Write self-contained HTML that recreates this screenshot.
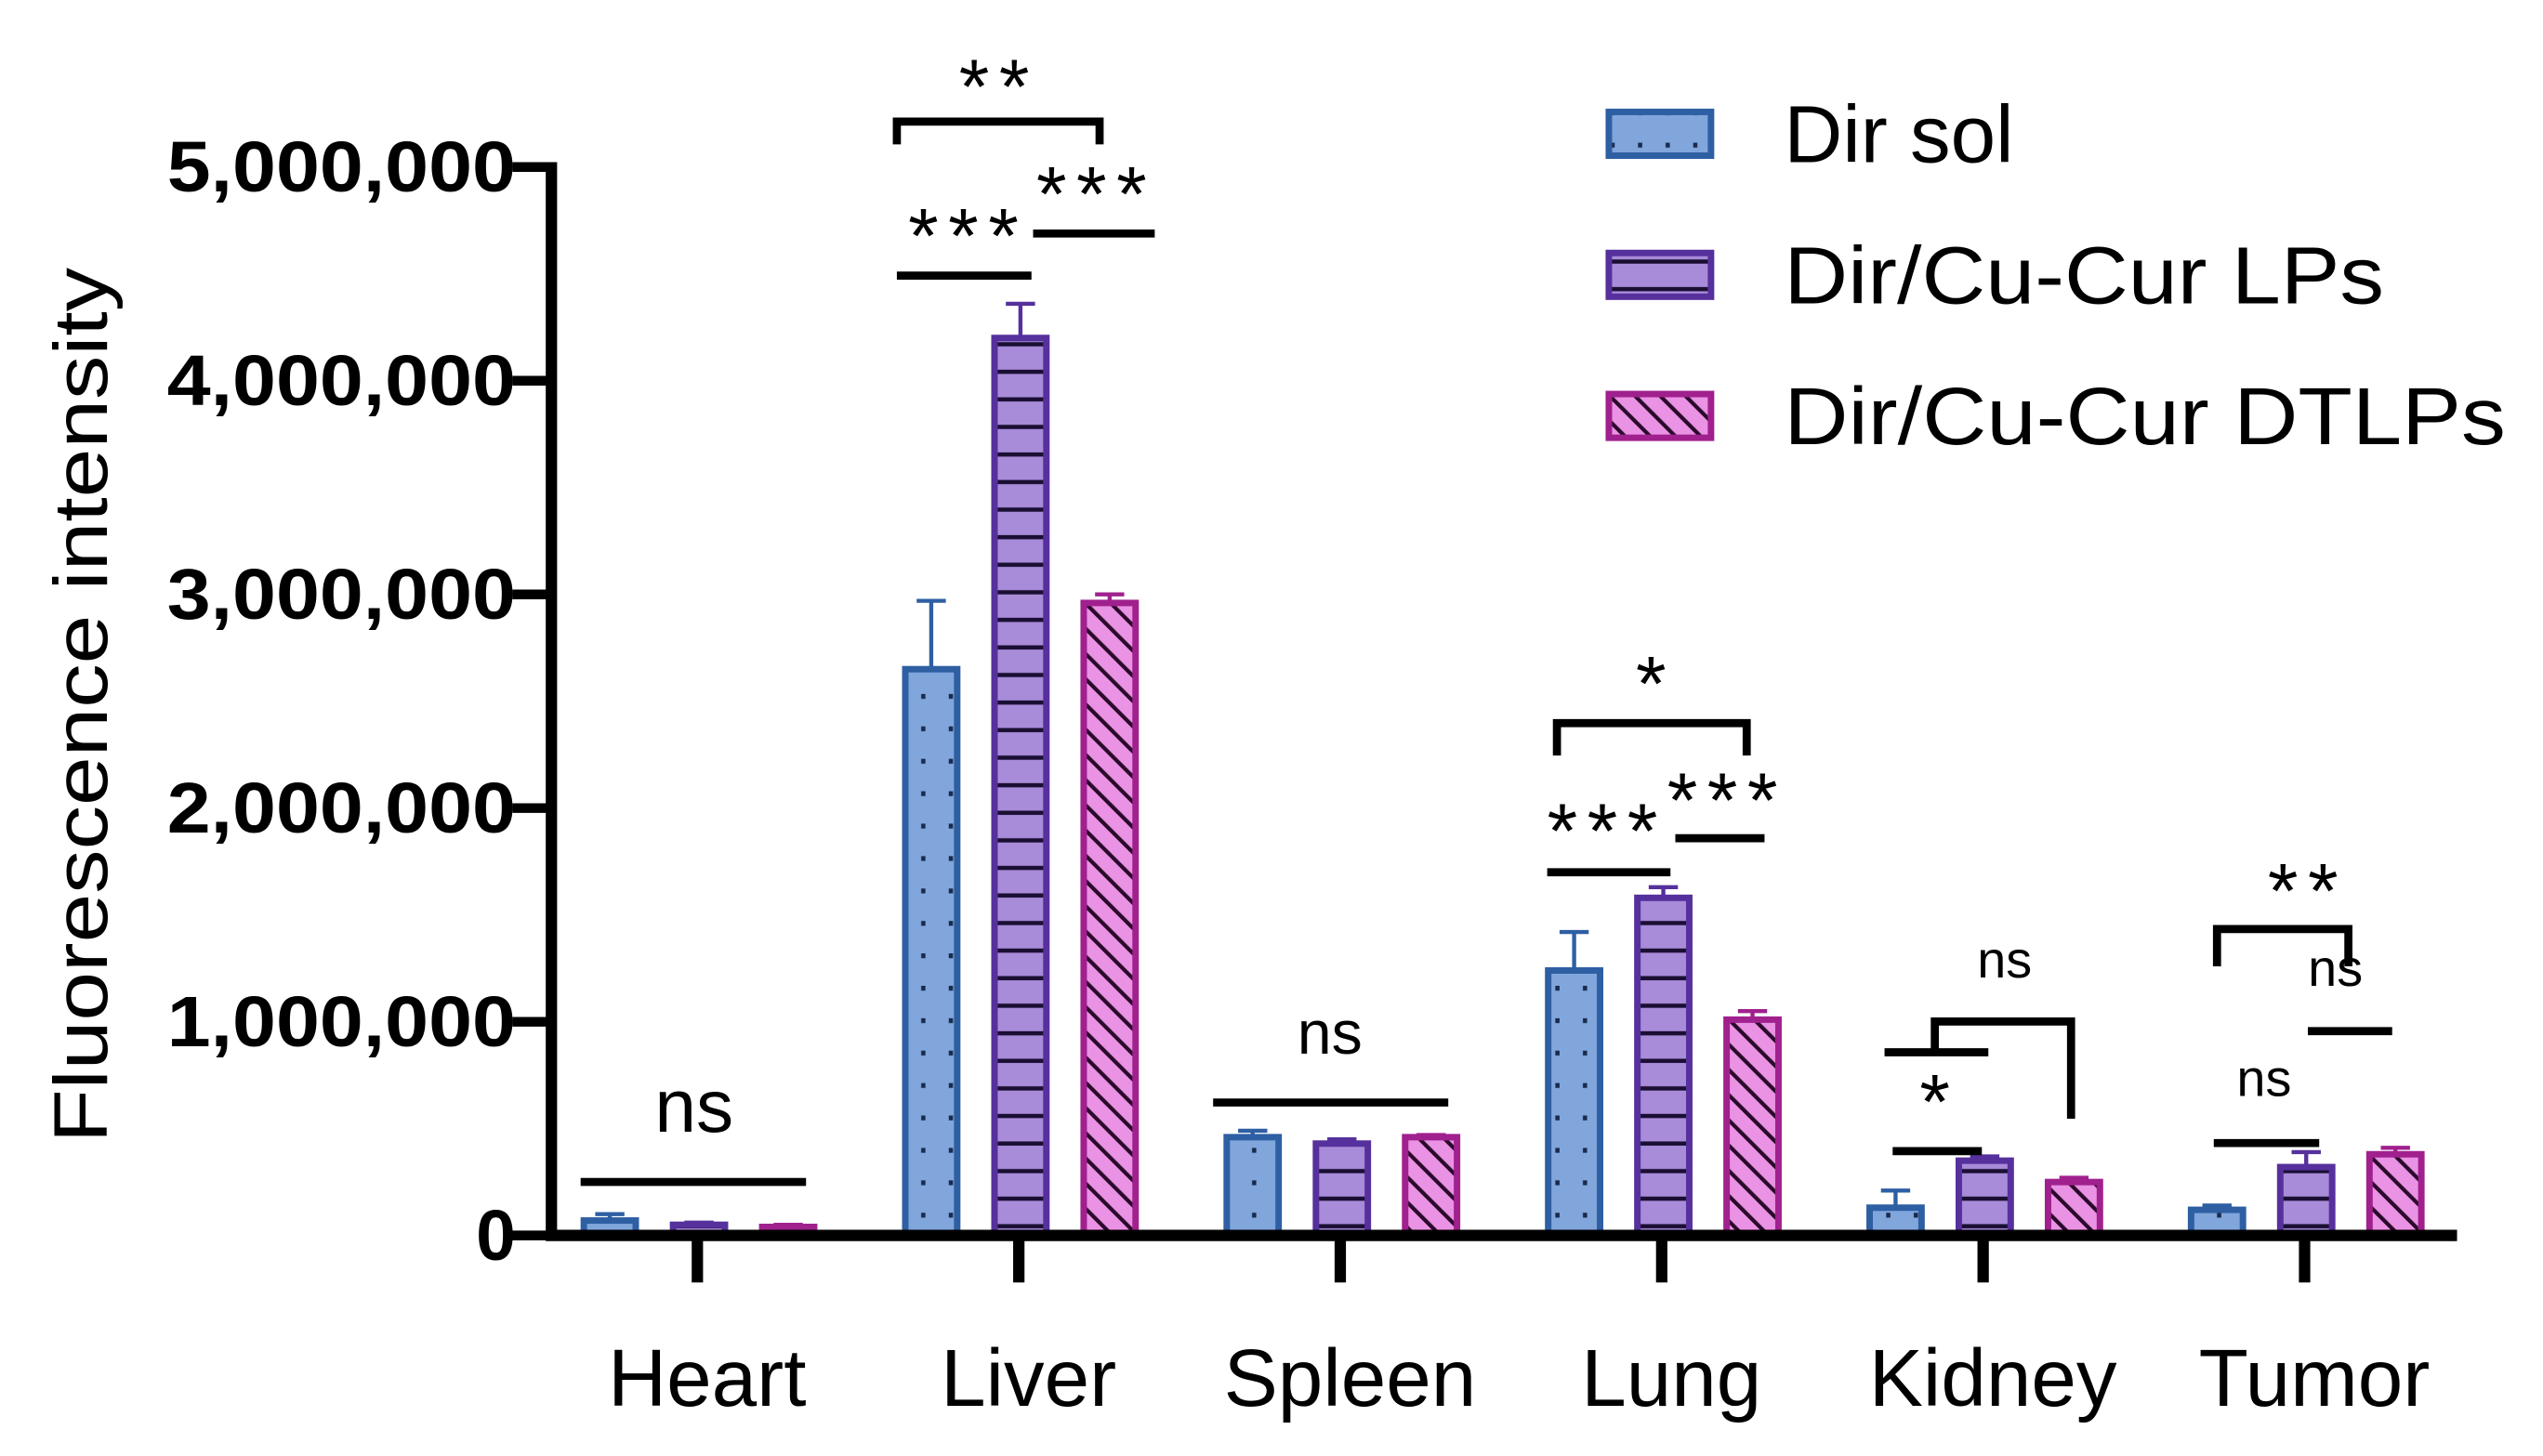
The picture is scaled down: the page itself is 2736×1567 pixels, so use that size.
<!DOCTYPE html>
<html><head><meta charset="utf-8"><style>
html,body{margin:0;padding:0;background:#fff;}
svg{display:block;}
text{font-family:"Liberation Sans",Arial,sans-serif;}
.star{font-size:48px;letter-spacing:6px;}
</style></head><body>
<svg id="chart" xmlns="http://www.w3.org/2000/svg" width="2736" height="1567" viewBox="0 0 1568 898">
<defs>
<pattern id="pDots" patternUnits="userSpaceOnUse" width="17" height="20"><rect width="17" height="20" fill="#80a6dc"/><rect x="7" y="8" width="2.6" height="3" fill="#1a2a4a"/></pattern>
<pattern id="pLines" patternUnits="userSpaceOnUse" width="20" height="17"><rect width="20" height="17" fill="#a88bd9"/><rect x="0" y="7" width="20" height="2.6" fill="#1a0f33"/></pattern>
<pattern id="pHatch" patternUnits="userSpaceOnUse" width="11" height="11" patternTransform="rotate(-45)"><rect width="11" height="11" fill="#ea92e4"/><rect x="0" y="0" width="2.4" height="11" fill="#2a0a2a"/></pattern>
</defs>
<g id="plot"></g>
<text transform="translate(66,435) rotate(-90)" text-anchor="middle" font-size="47" textLength="540" lengthAdjust="spacingAndGlyphs">Fluorescence intensity</text>
<g>
<rect x="992" y="69" width="63" height="27" fill="url(#pDots)" stroke="#2e5fa3" stroke-width="4"/>
<text x="1100" y="100" font-size="50">Dir sol</text>
<rect x="992" y="156" width="63" height="27" fill="url(#pLines)" stroke="#56309c" stroke-width="4"/>
<text x="1100" y="187" font-size="50" textLength="370" lengthAdjust="spacingAndGlyphs">Dir/Cu-Cur LPs</text>
<rect x="992" y="243" width="63" height="27" fill="url(#pHatch)" stroke="#a0208e" stroke-width="4"/>
<text x="1100" y="274" font-size="50" textLength="445" lengthAdjust="spacingAndGlyphs">Dir/Cu-Cur DTLPs</text>
</g>
<g id="annot" stroke="#000" stroke-width="5" fill="none">
<polyline points="358,729 497,729"/>
<polyline points="553,89 553,75 678,75 678,89"/>
<polyline points="553,170 636,170"/>
<polyline points="637,144 712,144"/>
<polyline points="748,680 893,680"/>
<polyline points="960,466 960,446 1077,446 1077,466"/>
<polyline points="954,538 1030,538"/>
<polyline points="1033,517 1088,517"/>
<polyline points="1167,710 1222,710"/>
<polyline points="1162,649 1226,649"/>
<polyline points="1193,649 1193,630 1277,630 1277,690"/>
<polyline points="1367,596 1367,573 1448,573 1448,596"/>
<polyline points="1423,636 1475,636"/>
<polyline points="1365,705 1430,705"/>
</g>
<g font-size="36" text-anchor="middle" fill="#000">
<text x="428" y="698" font-size="46">ns</text>
<text class="star" x="616" y="70">**</text>
<text class="star" x="597" y="162">***</text>
<text class="star" x="676" y="136">***</text>
<text x="820" y="650" font-size="38">ns</text>
<text class="star" x="1021" y="438">*</text>
<text class="star" x="991" y="529">***</text>
<text class="star" x="1065" y="510">***</text>
<text class="star" x="1196" y="696">*</text>
<text x="1236" y="603" font-size="32">ns</text>
<text class="star" x="1423" y="566">**</text>
<text x="1440" y="608" font-size="32">ns</text>
<text x="1396" y="676" font-size="32">ns</text>
</g>
</svg>
<script>
const categories = ["Heart","Liver","Spleen","Lung","Kidney","Tumor"];
const dirSol = [0.07, 2.65, 0.46, 1.24, 0.13, 0.12];
const dirSolErr = [0.03, 0.32, 0.03, 0.18, 0.08, 0.02];
const lps = [0.05, 4.2, 0.43, 1.58, 0.35, 0.32];
const lpsErr = [0.01, 0.16, 0.02, 0.05, 0.02, 0.07];
const dtlps = [0.04, 2.96, 0.46, 1.01, 0.25, 0.38];
const dtlpsErr = [0.01, 0.04, 0.01, 0.04, 0.02, 0.03];
const yTicks = [0, 1000000, 2000000, 3000000, 4000000, 5000000];
const yTickLabels = ["0","1,000,000","2,000,000","3,000,000","4,000,000","5,000,000"];

const NS = "http://www.w3.org/2000/svg";
const plot = document.getElementById("plot");
const X0 = 340, X1 = 1515, Y0 = 762, YTOP = 103, YMAX = 5;
const yScale = v => Y0 - (v / YMAX) * (Y0 - YTOP);
const catX = i => 430 + i * 198.2;
function mk(tag, attrs){ const e = document.createElementNS(NS, tag); for (const k in attrs) e.setAttribute(k, attrs[k]); return e; }

const series = [
  {vals: dirSol, err: dirSolErr, fill: "url(#pDots)", stroke: "#2e5fa3", off: -54, name: "dir-sol"},
  {vals: lps, err: lpsErr, fill: "url(#pLines)", stroke: "#56309c", off: 1, name: "lps"},
  {vals: dtlps, err: dtlpsErr, fill: "url(#pHatch)", stroke: "#a0208e", off: 56, name: "dtlps"}
];
const BW = 32;
series.forEach(s => {
  s.vals.forEach((v, i) => {
    const cx = catX(i) + s.off, yt = yScale(v), ye = yScale(v + s.err[i]);
    const eb = mk("path", {d: `M${cx},${yt} V${ye} M${cx-9},${ye} H${cx+9}`, stroke: s.stroke, "stroke-width": 2.5, fill: "none"});
    
    
    plot.appendChild(eb);
    const r = mk("rect", {x: cx - BW/2, y: yt, width: BW, height: Y0 - yt, fill: s.fill, stroke: s.stroke, "stroke-width": 4});
    
    
    plot.appendChild(r);
  });
});

yTicks.forEach((t, i) => {
  const y = yScale(t / 1000000);
  const tk = mk("line", {x1: X0 - 24, x2: X0, y1: y, y2: y, stroke: "#000", "stroke-width": 6});
  
  
  plot.appendChild(tk);
  const lab = yTickLabels[i];
  const tx = mk("text", {x: 318, y: y + 15, "text-anchor": "end", "font-size": 44, "font-weight": "bold"});
  if (lab.length > 1) { tx.setAttribute("textLength", 215); tx.setAttribute("lengthAdjust", "spacingAndGlyphs"); }
  tx.textContent = lab;
  
  
  plot.appendChild(tx);
});

categories.forEach((c, i) => {
  const x = catX(i);
  const tk = mk("line", {x1: x, x2: x, y1: Y0, y2: 791, stroke: "#000", "stroke-width": 7});
  
  
  plot.appendChild(tk);
  const tx = mk("text", {x: x + 6, y: 867, "text-anchor": "middle", "font-size": 50});
  tx.textContent = c;
  
  
  plot.appendChild(tx);
});

const ax = mk("path", {d: `M${X0},${YTOP-3} V${Y0} H${X1}`, stroke: "#000", "stroke-width": 7, fill: "none"});


plot.appendChild(ax);
</script>
</body></html>
